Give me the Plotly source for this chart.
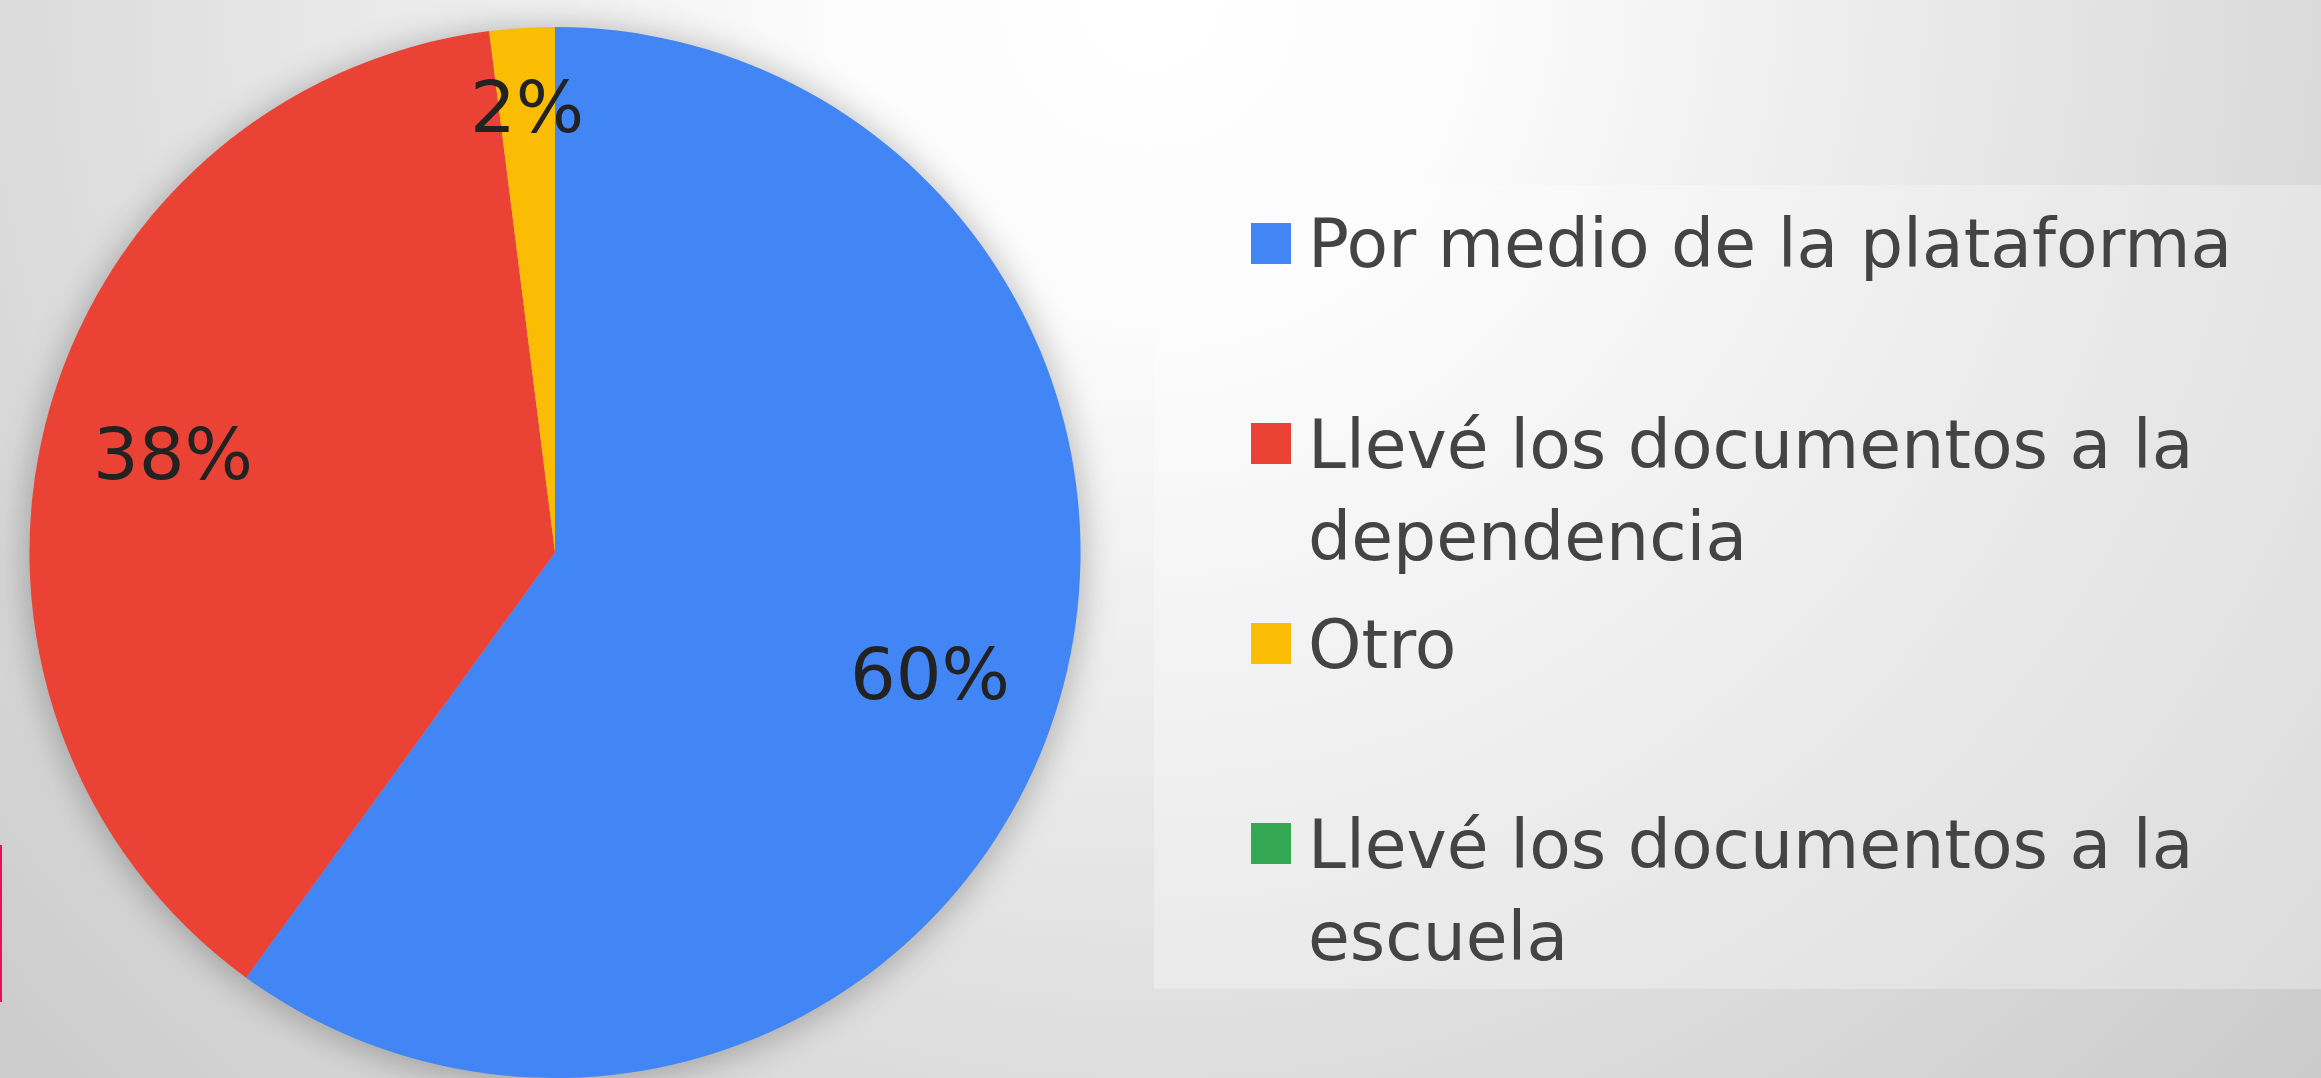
import base64
import math
import textwrap
import plotly.graph_objects as go

# datos del grafico
labels = ["Por medio de la plataforma",
          "Llevé los documentos a la dependencia",
          "Otro",
          "Llevé los documentos a la escuela"]
values = [60, 38, 2, 0]
colors = ["#4285f4", "#ea4335", "#fbbc04", "#34a853"]

W, H = 2321, 1078
FONT = "DejaVu Sans"
DOM_X = [25 / W, 1085 / W]
DOM_Y = [0, 0.975]

# fondo con degradado y sombra del pastel (svg embebido)
svg = f"""<svg xmlns='http://www.w3.org/2000/svg' width='{W}' height='{H}' viewBox='0 0 {W} {H}' preserveAspectRatio='none'>
<defs>
<radialGradient id='g' gradientUnits='userSpaceOnUse' cx='1150' cy='0' r='1720'>
<stop offset='0' stop-color='#ffffff'/>
<stop offset='0.18' stop-color='#fcfcfc'/>
<stop offset='0.6' stop-color='#dfdfdf'/>
<stop offset='1' stop-color='#c6c6c6'/>
</radialGradient>
<filter id='b' x='-20%' y='-20%' width='140%' height='140%'><feGaussianBlur stdDeviation='16'/></filter>
</defs>
<rect width='{W}' height='{H}' fill='url(#g)'/>
<circle cx='555' cy='556' r='530' fill='#000' fill-opacity='0.24' filter='url(#b)'/>
</svg>"""
bg = "data:image/svg+xml;base64," + base64.b64encode(svg.encode("utf-8")).decode()

fig = go.Figure()
fig.add_trace(go.Pie(
    labels=labels, values=values,
    marker=dict(colors=colors, line=dict(width=0)),
    sort=False, direction="clockwise", rotation=0,
    textinfo="none",
    showlegend=False, hoverinfo="label+percent",
    domain=dict(x=DOM_X, y=DOM_Y),
))

annotations = []

# etiquetas de porcentaje en el angulo medio de cada rebanada
total = sum(values)
r_px = min((DOM_X[1] - DOM_X[0]) * W, (DOM_Y[1] - DOM_Y[0]) * H) / 2
cx = (DOM_X[0] + DOM_X[1]) / 2
cy = (DOM_Y[0] + DOM_Y[1]) / 2
acc = 0
for v in values:
    frac = v / total
    mid = (acc + frac / 2) * 2 * math.pi
    acc += frac
    if not v:
        continue
    f = 0.75 if frac >= 0.05 else 0.85
    annotations.append(dict(
        text=f"{round(frac * 100)}%", xref="paper", yref="paper",
        x=cx + f * r_px * math.sin(mid) / W,
        y=cy + f * r_px * math.cos(mid) / H,
        xanchor="center", yanchor="middle", showarrow=False,
        font=dict(family=FONT, size=72, color="#222222")))

shapes = [
    # caja de la leyenda
    dict(type="rect", xref="paper", yref="paper", x0=1154 / W, x1=1.0,
         y0=1 - 989 / H, y1=1 - 185 / H, line=dict(width=0),
         fillcolor="rgba(255,255,255,0.3)", layer="below"),
    # linea rosa en el borde izquierdo
    dict(type="rect", xref="paper", yref="paper", x0=0, x1=2 / W,
         y0=1 - 1002 / H, y1=1 - 845 / H, line=dict(width=0),
         fillcolor="#e8105a"),
]
for i, (lab, col) in enumerate(zip(labels, colors)):
    y0 = 244 + 200 * i
    shapes.append(dict(type="rect", xref="paper", yref="paper",
                       x0=1251 / W, x1=1291 / W,
                       y0=1 - (y0 + 20) / H, y1=1 - (y0 - 21) / H,
                       line=dict(width=0), fillcolor=col))
    for j, line in enumerate(textwrap.wrap(lab, width=26)):
        annotations.append(dict(
            text=line, xref="paper", yref="paper",
            x=1306 / W, y=1 - (y0 + 92 * j) / H,
            xanchor="left", yanchor="middle", showarrow=False,
            font=dict(family=FONT, size=68, color="#444444")))

fig.update_layout(
    width=W, height=H,
    margin=dict(l=0, r=0, t=0, b=0),
    paper_bgcolor="#dcdcdc", plot_bgcolor="rgba(0,0,0,0)",
    images=[dict(source=bg, xref="paper", yref="paper", x=0, y=1,
                 sizex=1, sizey=1, sizing="stretch", layer="below",
                 xanchor="left", yanchor="top")],
    shapes=shapes,
    annotations=annotations,
)

fig.write_html("out.html", config={"displayModeBar": False},
               post_script="document.body.style.margin='0';document.body.style.overflow='hidden';")
